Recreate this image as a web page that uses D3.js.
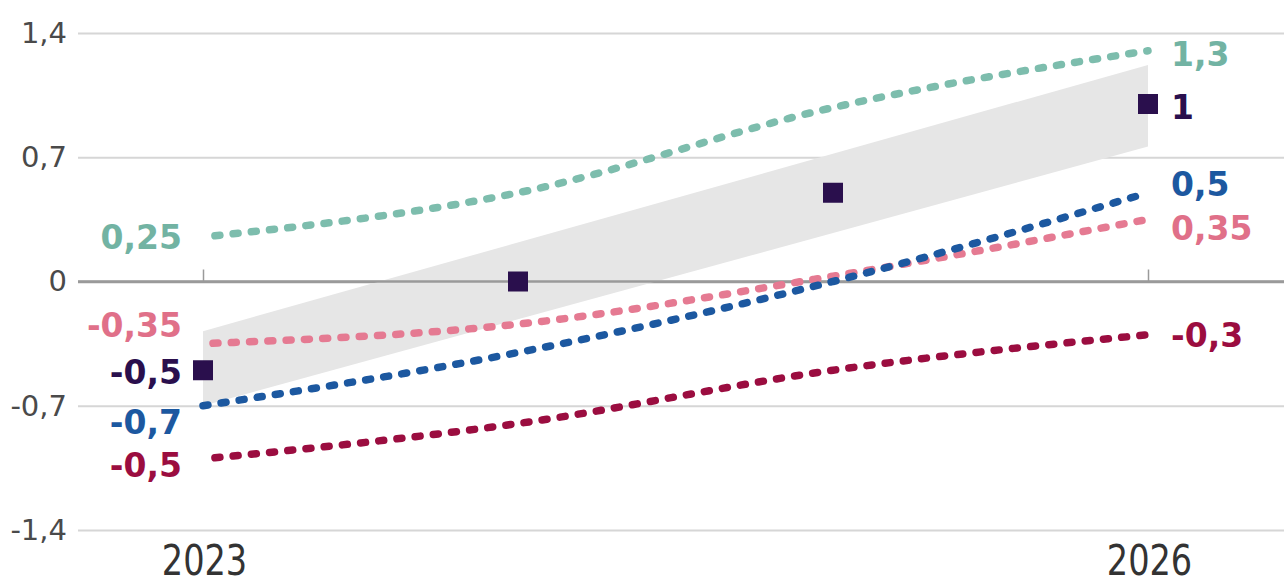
<!DOCTYPE html>
<html>
<head>
<meta charset="utf-8">
<script src="https://cdn.jsdelivr.net/npm/d3@7"></script>
<style>
  html, body { margin: 0; padding: 0; background: #ffffff; }
  svg { display: block; }
</style>
</head>
<body>
<svg id="chart" width="1284" height="585"></svg>
<script>
// ---- data ----
const years = [2023, 2024, 2025, 2026];
const tealValues = [0.25, 0.5, 0.98, 1.3];
const pinkValues = [-0.35, -0.24, 0.03, 0.35];
const blueValues = [-0.7, -0.4, 0.0, 0.5];
const wineValues = [-1.0, -0.8, -0.5, -0.3];
const pointValues = [-0.5, 0.0, 0.5, 1.0];
const bandYears = [2023, 2026];
const bandLow = [-0.7, 0.76];
const bandHigh = [-0.28, 1.22];
const yTicks = [-1.4, -0.7, 0, 0.7, 1.4];
const xTicks = [2023, 2026];
const startLabels = ["0,25", "-0,35", "-0,7", "-0,5", "-0,5"];
const endLabels = ["1,3", "0,35", "0,5", "-0,3", "1"];

// ---- layout ----
const W = 1284, H = 585;
const gridLeft = 78;
const svg = d3.select("#chart");
const x = d3.scaleLinear().domain([2023, 2026]).range([203, 1148]);
const y = d3.scaleLinear().domain([-1.4, 1.4]).range([530, 33]);

const locale = d3.formatLocale({decimal: ",", thousands: ".", grouping: [3], currency: ["", ""], minus: "-"});
const fmt = d => d === 0 ? "0" : locale.format(".1f")(d);

const FONT = "'DejaVu Sans', Verdana, sans-serif";

// horizontal grid + y tick labels
const yAxis = svg.append("g")
  .attr("transform", `translate(${gridLeft},0)`)
  .call(d3.axisLeft(y).tickValues(yTicks).tickFormat(fmt)
    .tickSize(-(W - gridLeft)).tickPadding(11));
yAxis.select(".domain").remove();
yAxis.selectAll(".tick line")
  .attr("stroke", d => d === 0 ? "#9a9a9a" : "#d6d6d6")
  .attr("stroke-width", d => d === 0 ? 2.5 : 2);
yAxis.selectAll(".tick text")
  .attr("font-family", FONT).attr("font-size", 29)
  .attr("fill", "#4a4a4a");

// shaded range band
const band = bandYears.map((yr, i) => ({yr, lo: bandLow[i], hi: bandHigh[i]}));
svg.append("path")
  .datum(band)
  .attr("fill", "#e6e6e6")
  .attr("d", d3.area().x(d => x(d.yr)).y0(d => y(d.lo)).y1(d => y(d.hi)));

// zero line drawn again above the band
svg.append("line")
  .attr("x1", gridLeft).attr("x2", W)
  .attr("y1", y(0)).attr("y2", y(0))
  .attr("stroke", "#9a9a9a").attr("stroke-width", 2.5);

// small year ticks on the zero line
const xTickAxis = svg.append("g")
  .attr("transform", `translate(0,${y(0)})`)
  .call(d3.axisTop(x).tickValues(xTicks).tickSize(12).tickFormat(""));
xTickAxis.select(".domain").remove();
xTickAxis.selectAll(".tick line").attr("stroke", "#9a9a9a").attr("stroke-width", 1.5);

// year labels (tall, narrow figures)
const xAxis = svg.append("g")
  .attr("transform", `translate(0,${y(-1.4)})`)
  .call(d3.axisBottom(x).tickValues(xTicks).tickFormat(d3.format("d")).tickSize(0));
xAxis.select(".domain").remove();
xAxis.selectAll(".tick text")
  .attr("y", 0).attr("dy", 0)
  .attr("text-anchor", "middle")
  .attr("transform", "translate(1,45) scale(0.8,1)")
  .attr("font-family", FONT).attr("font-size", 42).attr("fill", "#333333");

// dotted series
const series = [
  {values: tealValues, color: "#7dbdad", text: "#72b3a3", offset: 12},
  {values: pinkValues, color: "#e57a92", text: "#e07089", offset: 10},
  {values: blueValues, color: "#1c58a0", text: "#1c58a0", offset: 0},
  {values: wineValues, color: "#9b0d40", text: "#9b0d40", offset: 12}
];
const line = d3.line().x((d, i) => x(years[i])).y(d => y(d)).curve(d3.curveMonotoneX);

series.forEach(s => {
  svg.append("path")
    .datum(s.values)
    .attr("fill", "none")
    .attr("stroke", s.color)
    .attr("stroke-width", 7.5)
    .attr("stroke-linecap", "round")
    .attr("stroke-dasharray", "5,13.3")
    .attr("stroke-dashoffset", -s.offset)
    .attr("d", line);
});

// markers
svg.selectAll("rect.pt")
  .data(pointValues)
  .join("rect")
  .attr("class", "pt")
  .attr("x", (d, i) => x(years[i]) - 10)
  .attr("y", d => y(d) - 10)
  .attr("width", 20).attr("height", 20)
  .attr("fill", "#2a0f4d");

// value labels at both ends
const labelSets = [
  {values: tealValues, color: series[0].text, ls: 0, le: 3, si: 0, ei: 0},
  {values: pinkValues, color: series[1].text, ls: -19, le: 9, si: 1, ei: 1},
  {values: blueValues, color: series[2].text, ls: 16, le: -9, si: 2, ei: 2},
  {values: wineValues, color: series[3].text, ls: 6, le: 0, si: 4, ei: 3},
  {values: pointValues, color: "#2a0f4d", ls: 2, le: 3, si: 3, ei: 4}
];
const last = years.length - 1;
labelSets.forEach(l => {
  svg.append("text")
    .attr("x", x(years[0]) - 21)
    .attr("y", y(l.values[0]) + l.ls)
    .attr("dy", "0.36em")
    .attr("text-anchor", "end")
    .attr("font-family", FONT).attr("font-weight", "bold").attr("font-size", 33)
    .attr("fill", l.color)
    .text(startLabels[l.si]);
  svg.append("text")
    .attr("x", x(years[last]) + 23)
    .attr("y", y(l.values[last]) + l.le)
    .attr("dy", "0.36em")
    .attr("text-anchor", "start")
    .attr("font-family", FONT).attr("font-weight", "bold").attr("font-size", 33)
    .attr("fill", l.color)
    .text(endLabels[l.ei]);
});
</script>
</body>
</html>
